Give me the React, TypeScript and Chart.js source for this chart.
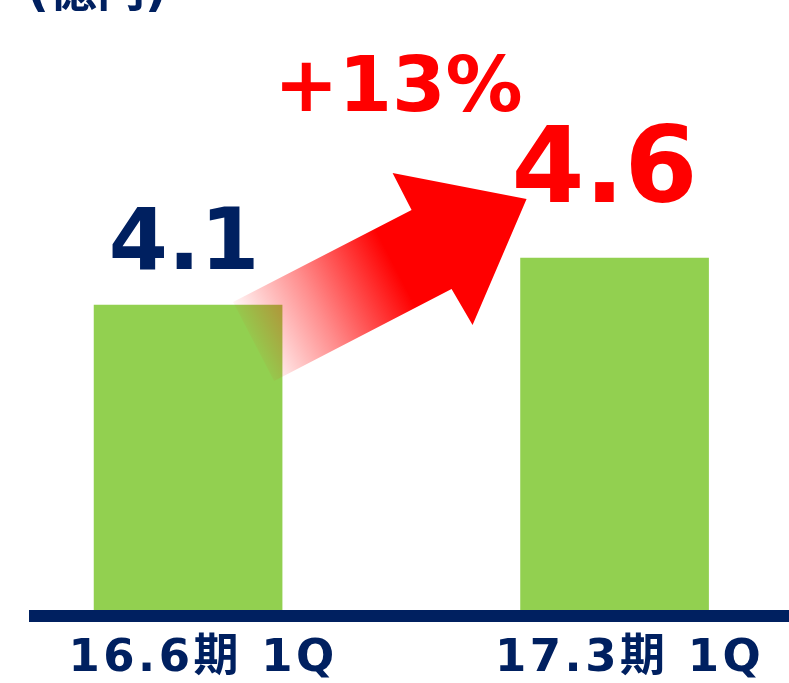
import React, { useEffect, useRef } from 'react';
import { Chart, registerables } from 'chart.js';

Chart.register(...registerables);

// ---- data ----
const categories = ['16.6期 1Q', '17.3期 1Q'];
const values = [4.1, 4.6];
const valueColors = ['#002060', '#FF0000'];
const valueFontSizes = [85, 105];
const growthLabel = '+13%';
const unitLabel = '(億円)';

const NAVY = '#002060';
const RED = '#FF0000';
const GREEN = '#92D050';
const FONT = "'DejaVu Sans', 'Noto Sans CJK JP', sans-serif";

const annotations = {
  id: 'annotations',
  beforeDraw(chart: any) {
    (chart.ctx as any).letterSpacing = '3.5px';
  },
  afterDatasetsDraw(chart: any) {
    const ctx = chart.ctx as CanvasRenderingContext2D;
    const area = chart.chartArea;
    const bars = chart.getDatasetMeta(0).data as any[];
    const b1 = bars[0];
    const b2 = bars[1];
    ctx.save();
    (ctx as any).letterSpacing = '0px';

    // gradient arrow from first bar to second bar's label
    const tailTop = { x: b1.x + 45, y: b1.y - 3 };
    const tailBot = { x: b1.x + 86, y: b1.y + 76 };
    const innerTop = { x: b2.x - 203, y: b2.y - 48 };
    const barbTop = { x: b2.x - 222, y: b2.y - 85 };
    const tip = { x: b2.x - 88, y: b2.y - 59 };
    const barbBot = { x: b2.x - 142, y: b2.y + 67 };
    const innerBot = { x: b2.x - 163, y: b2.y + 31 };
    const mid = { x: (tailTop.x + tailBot.x) / 2, y: (tailTop.y + tailBot.y) / 2 };
    const ux = 0.888, uy = -0.459;
    const grad = ctx.createLinearGradient(mid.x, mid.y, mid.x + ux * 160, mid.y + uy * 160);
    grad.addColorStop(0, 'rgba(255,0,0,0.04)');
    grad.addColorStop(0.45, 'rgba(255,0,0,0.45)');
    grad.addColorStop(1, 'rgba(255,0,0,1)');
    ctx.fillStyle = grad;
    ctx.beginPath();
    ctx.moveTo(tailTop.x, tailTop.y);
    ctx.lineTo(innerTop.x, innerTop.y);
    ctx.lineTo(barbTop.x, barbTop.y);
    ctx.lineTo(tip.x, tip.y);
    ctx.lineTo(barbBot.x, barbBot.y);
    ctx.lineTo(innerBot.x, innerBot.y);
    ctx.lineTo(tailBot.x, tailBot.y);
    ctx.closePath();
    ctx.fill();

    // value labels
    const offsets = [
      { dx: -4, dy: -36 },
      { dx: -10, dy: -56 },
    ];
    ctx.textAlign = 'center';
    ctx.textBaseline = 'alphabetic';
    bars.forEach((b, i) => {
      ctx.fillStyle = valueColors[i];
      ctx.font = `bold ${valueFontSizes[i]}px ${FONT}`;
      ctx.fillText(values[i].toFixed(1), b.x + offsets[i].dx, b.y + offsets[i].dy);
    });

    // growth label
    ctx.fillStyle = RED;
    ctx.font = `bold 77px ${FONT}`;
    ctx.fillText(growthLabel, (b1.x + b2.x) / 2 - 3, b2.y - 147);

    // unit label
    ctx.fillStyle = NAVY;
    ctx.textAlign = 'left';
    ctx.font = `bold 48px ${FONT}`;
    ctx.fillText(unitLabel, 27, 6);

    // axis line
    ctx.fillStyle = NAVY;
    ctx.fillRect(29, area.bottom, chart.width - 29, 12);
    ctx.restore();
  },
  afterDraw(chart: any) {
    (chart.ctx as any).letterSpacing = '0px';
  },
};

export default function App() {
  const ref = useRef<HTMLCanvasElement>(null);
  useEffect(() => {
    if (!ref.current) return;
    const chart = new Chart(ref.current, {
      type: 'bar',
      data: {
        datasets: [
          {
            data: values.map((v, i) => ({ x: i, y: v })),
            backgroundColor: GREEN,
            barThickness: 188,
          },
        ],
      },
      options: {
        responsive: false,
        maintainAspectRatio: false,
        animation: false,
        devicePixelRatio: 1,
        layout: { padding: 0 },
        plugins: { legend: { display: false }, tooltip: { enabled: false } },
        scales: {
          x: {
            type: 'linear',
            offset: false,
            bounds: 'ticks',
            min: -0.441,
            max: 1.409,
            grid: { display: false },
            border: { display: false },
            afterFit: (s: any) => {
              s.height = 73;
              s.paddingLeft = 0;
              s.paddingRight = 0;
            },
            ticks: {
              stepSize: 1,
              includeBounds: false,
              callback: (v: any) => (Number.isInteger(v) ? categories[v] ?? '' : ''),
              color: NAVY,
              font: { family: FONT, size: 45, weight: 'bold' },
              padding: 14,
              labelOffset: 15,
              maxRotation: 0,
              autoSkip: false,
            },
          },
          y: {
            display: false,
            min: 0.855,
            max: 7.345,
          },
        },
      },
      plugins: [annotations],
    } as any);
    return () => chart.destroy();
  }, []);
  return (
    <div style={{ position: 'fixed', left: 0, top: 0, width: 789, height: 683, background: '#fff' }}>
      <canvas ref={ref} width={789} height={683} style={{ display: 'block' }} />
    </div>
  );
}
